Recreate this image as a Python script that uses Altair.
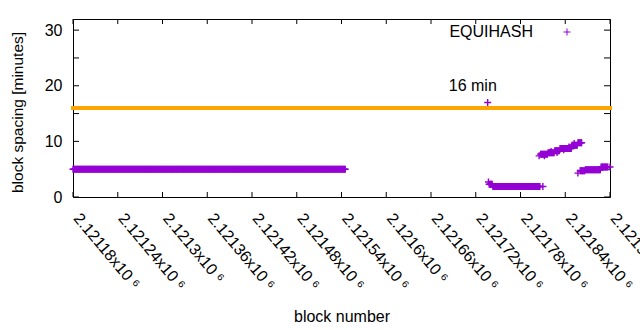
import altair as alt
import pandas as pd

# ---- data ----
# runs of consecutive blocks: (first block, last block, spacing in minutes)
run_from = [2121180, 2121736, 2121737, 2121738, 2121743, 2121810,
            2121805, 2121807, 2121817, 2121826, 2121833, 2121849, 2121857,
            2121812, 2121821, 2121829, 2121838, 2121845, 2121852,
            2121857, 2121860, 2121867, 2121888, 2121900]
run_to = [2121545, 2121736, 2121737, 2121742, 2121806, 2121810,
          2121805, 2121816, 2121825, 2121832, 2121848, 2121856, 2121862,
          2121812, 2121821, 2121829, 2121838, 2121845, 2121852,
          2121857, 2121866, 2121887, 2121897, 2121900]
run_minutes = [5.0, 17.0, 2.7, 2.3, 1.9, 1.9,
               7.4, 7.7, 7.95, 8.3, 8.7, 9.3, 9.75,
               7.4, 8.2, 8.0, 8.5, 9.0, 9.6,
               4.3, 4.7, 4.9, 5.4, 5.4]

target_minutes = [16]
target_label = ["16 min"]
label_block = [2121716]
label_minutes = [20]

x_ticks = [2121180, 2121240, 2121300, 2121360, 2121420, 2121480, 2121540,
           2121600, 2121660, 2121720, 2121780, 2121840, 2121900]
y_ticks = [0, 5, 10, 15, 20, 25, 30]
series_name = "EQUIHASH"

blocks, minutes = [], []
for a, b, m in zip(run_from, run_to, run_minutes):
    for blk in range(a, b + 1):
        blocks.append(blk)
        minutes.append(m)
df = pd.DataFrame({"block": blocks, "minutes": minutes})

W, H = 537, 178
FONT = "Liberation Sans"
FS = 16
PURPLE = "#9400D3"
ORANGE = "#FFA500"
CROSS = "M-1,0L1,0M0,-1L0,1"

xscale = alt.Scale(domain=[x_ticks[0], x_ticks[-1]], nice=False, zero=False)
yscale = alt.Scale(domain=[0, 32], nice=False)

x_axis = alt.Axis(values=x_ticks, grid=False, domain=False, ticks=False, tickSize=0,
                  labelExpr="format(datum.value / 1000000, '.6~g') + 'x10 ⁶'",
                  labelAngle=50, labelAlign="left", labelBaseline="middle",
                  labelPadding=18, labelOffset=3,
                  labelFont=FONT, labelFontSize=FS, labelColor="black",
                  labelOverlap=False, labelFlush=False,
                  title="block number", titleFont=FONT, titleFontSize=FS,
                  titleFontWeight="normal", titleColor="black",
                  titleX=W / 2, titleY=119, titleBaseline="middle", titleAlign="center")
y_axis = alt.Axis(values=y_ticks, grid=False, domain=False, ticks=False, tickSize=0,
                  labelPadding=11, labelFont=FONT, labelFontSize=FS, labelColor="black",
                  labelFlush=False,
                  title="block spacing [minutes]", titleFont=FONT, titleFontSize=15.5,
                  titleFontWeight="normal", titleColor="black",
                  titleX=-56, titleY=93, titleAngle=-90,
                  titleBaseline="middle", titleAlign="center")

points = alt.Chart(df).mark_point(
    shape=CROSS, size=49, filled=False, color=PURPLE, strokeWidth=1.4, opacity=1
).encode(
    x=alt.X("block:Q", scale=xscale, axis=x_axis),
    y=alt.Y("minutes:Q", scale=yscale, axis=y_axis),
)

line = alt.Chart(pd.DataFrame({"m": target_minutes})).mark_rule(
    color=ORANGE, strokeWidth=4, strokeCap="square"
).encode(y=alt.Y("m:Q", scale=yscale), x=alt.value(0), x2=alt.value(W))

label = alt.Chart(pd.DataFrame({"b": label_block, "m": label_minutes, "t": target_label})).mark_text(
    font=FONT, fontSize=FS, color="black", align="center", baseline="middle"
).encode(x=alt.X("b:Q", scale=xscale), y=alt.Y("m:Q", scale=yscale), text="t:N")

xt = pd.DataFrame({"v": x_ticks})
yt = pd.DataFrame({"v": y_ticks})
tick_bottom = alt.Chart(xt).mark_rule(color="black", strokeWidth=1).encode(
    x=alt.X("v:Q", scale=xscale), y=alt.value(H), y2=alt.value(H - 5))
tick_top = alt.Chart(xt).mark_rule(color="black", strokeWidth=1).encode(
    x=alt.X("v:Q", scale=xscale), y=alt.value(0), y2=alt.value(5))
tick_left = alt.Chart(yt).mark_rule(color="black", strokeWidth=1).encode(
    y=alt.Y("v:Q", scale=yscale), x=alt.value(0), x2=alt.value(6))
tick_right = alt.Chart(yt).mark_rule(color="black", strokeWidth=1).encode(
    y=alt.Y("v:Q", scale=yscale), x=alt.value(W), x2=alt.value(W - 6))

leg = pd.DataFrame({"t": [series_name]})
leg_text = alt.Chart(leg).mark_text(
    font=FONT, fontSize=FS, color="black", align="right", baseline="middle"
).encode(x=alt.value(460), y=alt.value(13), text="t:N")
leg_sym = alt.Chart(leg).mark_point(
    shape=CROSS, size=49, filled=False, color=PURPLE, strokeWidth=1, opacity=1
).encode(x=alt.value(494), y=alt.value(13))

chart = alt.layer(
    tick_bottom, tick_top, tick_left, tick_right, points, line, label, leg_text, leg_sym
).properties(
    width=W, height=H,
    autosize=alt.AutoSizeParams(type="none"),
    padding={"left": 73, "top": 19, "right": 30, "bottom": 133},
    background="white",
).configure_view(stroke="black", strokeWidth=1)

chart.save("out.html", embed_options={"renderer": "svg", "actions": False})
